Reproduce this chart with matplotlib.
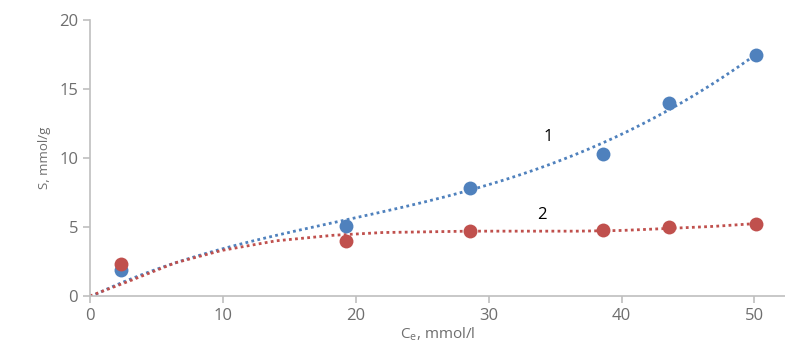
import numpy as np
from matplotlib import pyplot as plt

# measured points
ce = [2.3, 19.3, 28.6, 38.6, 43.6, 50.1]
s1 = [1.9, 5.1, 7.8, 10.3, 14.0, 17.5]
s2 = [2.35, 4.0, 4.7, 4.8, 5.0, 5.2]

# trend lines
trend1_x = [0, 3, 6.4, 9.9, 14, 18.3, 23, 28.6, 32, 35.3, 38.6, 41, 43.6, 47, 50.1]
trend1_y = [0, 1.1, 2.4, 3.4, 4.4, 5.3, 6.4, 7.75, 8.7, 9.6, 10.9, 12.2, 13.8, 15.5, 17.4]
trend2_x = [0, 3, 6.4, 9.9, 14, 18.3, 22, 28.6, 36.7, 40, 43.6, 47, 50.1]
trend2_y = [0, 1.1, 2.4, 3.3, 4.0, 4.4, 4.6, 4.7, 4.7, 4.75, 4.9, 5.05, 5.25]

blue = "#4F81BD"
red = "#C0504D"
grey = "#6E6E6E"

plt.rcParams["font.family"] = ["Open Sans", "DejaVu Sans"]

fig = plt.figure(figsize=(7.85, 3.45), dpi=100)
ax = fig.add_axes([0.1146, 0.142, 0.8854, 0.8])

# smooth the read trend of series 1
xs = np.linspace(0, 50.1, 200)
coef = np.polyfit(trend1_x, trend1_y, 4)
ax.plot(xs, np.polyval(coef, xs), linestyle=(0, (1, 1.2)), color=blue, lw=2)
ax.plot(trend2_x, trend2_y, linestyle=(0, (1, 1.2)), color=red, lw=2)
ax.plot(ce, s1, "o", color=blue, ms=10, mec="none")
ax.plot(ce, s2, "o", color=red, ms=10, mec="none")

ax.text(34.5, 11.5, "1", fontsize=12, ha="center", va="center", color="black")
ax.text(34.0, 5.9, "2", fontsize=12, ha="center", va="center", color="black")

ax.set_xlim(0, 52.3)
ax.set_ylim(0, 20)
ax.set_xticks([0, 10, 20, 30, 40, 50])
ax.set_yticks([0, 5, 10, 15, 20])

for side in ["top", "right"]:
    ax.spines[side].set_visible(False)
for side in ["left", "bottom"]:
    ax.spines[side].set_color("#BFBFBF")
    ax.spines[side].set_linewidth(1.2)
ax.tick_params(colors="#BFBFBF", labelcolor=grey, labelsize=12, length=5, width=1.2)

ax.set_xlabel(r"C$_\mathregular{e}$, mmol/l", fontsize=11, color=grey, labelpad=1)
ax.set_ylabel("S, mmol/g", fontsize=9.5, color=grey, labelpad=6)

fig.savefig("out.png", dpi=100)
